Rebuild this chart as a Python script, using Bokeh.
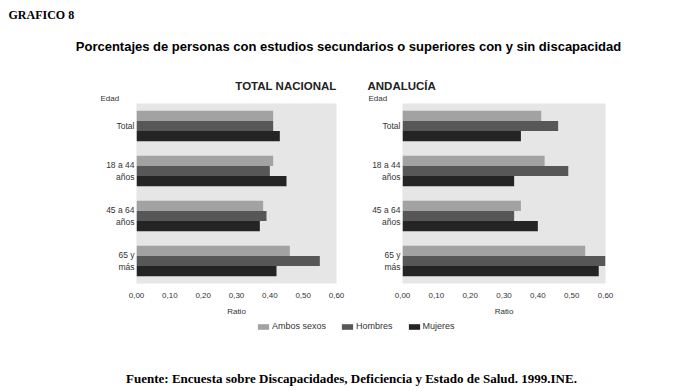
from bokeh.plotting import figure
from bokeh.models import (ColumnDataSource, Range1d, FactorRange, Label, Title,
                          Legend, LegendItem, CustomJSTickFormatter, FixedTicker)
from bokeh.layouts import column, row
from bokeh.transform import dodge
from bokeh.embed import file_html
from bokeh.resources import INLINE

# ---------------- data ----------------
groups = ["Total", "18 a 44\naños", "45 a 64\naños", "65 y\nmás"]
series = ["Ambos sexos", "Hombres", "Mujeres"]
nacional_ambos = [0.41, 0.41, 0.38, 0.46]
nacional_hombres = [0.41, 0.40, 0.39, 0.55]
nacional_mujeres = [0.43, 0.45, 0.37, 0.42]
andalucia_ambos = [0.41, 0.42, 0.35, 0.54]
andalucia_hombres = [0.46, 0.49, 0.33, 0.60]
andalucia_mujeres = [0.35, 0.33, 0.40, 0.58]
x_ticks = [0.0, 0.1, 0.2, 0.3, 0.4, 0.5, 0.6]

colors = ["#a2a2a2", "#575757", "#242424"]
SANS = "Liberation Sans"
BAR_H = 0.225
offsets = [BAR_H, 0.0, -BAR_H]


def make_panel(title, ambos, hombres, mujeres, width, bl, br, talign, toffset, eoffset):
    src = ColumnDataSource(dict(grupo=groups, ambos=ambos, hombres=hombres, mujeres=mujeres))
    p = figure(width=width, height=260, output_backend="svg", toolbar_location=None,
               y_range=FactorRange(factors=list(reversed(groups)), range_padding=0),
               x_range=Range1d(0, 0.6),
               min_border_left=bl, min_border_right=br, min_border_top=45, min_border_bottom=35)
    p.title.visible = False
    p.background_fill_color = "#e6e6e6"
    p.outline_line_color = None
    p.border_fill_color = "white"
    p.xgrid.grid_line_color = None
    p.ygrid.grid_line_color = None
    for key, off, col in zip(["ambos", "hombres", "mujeres"], offsets, colors):
        p.hbar(y=dodge("grupo", off, range=p.y_range), right=key, left=0, height=BAR_H,
               source=src, fill_color=col, line_color=None)
    xa = p.xaxis[0]
    xa.ticker = FixedTicker(ticks=x_ticks)
    xa.formatter = CustomJSTickFormatter(code="return tick.toFixed(2).replace('.', ',');")
    xa.axis_label = "Ratio"
    xa.axis_label_text_font = SANS
    xa.axis_label_text_font_style = "normal"
    xa.axis_label_text_font_size = "8px"
    xa.axis_label_text_color = "#333333"
    xa.axis_label_standoff = 6
    xa.major_label_text_font = SANS
    xa.major_label_text_font_size = "8px"
    xa.major_label_text_color = "#333333"
    xa.major_label_standoff = 9
    ya = p.yaxis[0]
    ya.major_label_text_font = SANS
    ya.major_label_text_font_size = "8.5px"
    ya.major_label_text_color = "#333333"
    ya.major_label_standoff = 2
    for ax in (xa, ya):
        ax.axis_line_color = None
        ax.major_tick_line_color = None
        ax.minor_tick_line_color = None
        ax.major_tick_out = 0
        ax.major_tick_in = 0
        ax.minor_tick_out = 0
        ax.minor_tick_in = 0
    p.add_layout(Title(text="Edad", align="left", offset=eoffset, text_font=SANS,
                       text_font_style="normal", text_font_size="8px",
                       text_color="#333333", standoff=1), "above")
    p.add_layout(Title(text=title, align=talign, offset=toffset, text_font=SANS,
                       text_font_style="bold", text_font_size="11.5px",
                       text_color="#222222", standoff=0), "above")
    return p


left = make_panel("TOTAL NACIONAL", nacional_ambos, nacional_hombres, nacional_mujeres,
                  358, 136, 22, "right", 0, -36)
right = make_panel("ANDALUCÍA", andalucia_ambos, andalucia_hombres, andalucia_mujeres,
                   320, 44, 73, "left", -35, -34)

# ---------------- header ----------------
header = figure(width=678, height=58, output_backend="svg", toolbar_location=None,
                x_range=Range1d(0, 678), y_range=Range1d(0, 58),
                x_axis_type=None, y_axis_type=None, min_border=0)
header.title.visible = False
header.outline_line_color = None
header.xgrid.visible = False
header.ygrid.visible = False
header.add_layout(Label(x=8, y=44, text="GRAFICO 8", text_font="Liberation Serif",
                        text_font_style="bold", text_font_size="12px",
                        text_baseline="middle", text_align="left", text_color="black"))
header.add_layout(Label(x=348, y=12,
                        text="Porcentajes de personas con estudios secundarios o superiores con y sin discapacidad",
                        text_font=SANS, text_font_style="bold", text_font_size="13px",
                        text_baseline="middle", text_align="center", text_color="black"))

# ---------------- footer with legend ----------------
footer = figure(width=678, height=73, output_backend="svg", toolbar_location=None,
                x_range=Range1d(0, 678), y_range=Range1d(0, 73),
                x_axis_type=None, y_axis_type=None, min_border=0)
footer.title.visible = False
footer.outline_line_color = None
footer.xgrid.visible = False
footer.ygrid.visible = False
fsrc = ColumnDataSource(dict(grupo=groups, ambos=nacional_ambos, hombres=nacional_hombres,
                             mujeres=nacional_mujeres))
items = []
for key, name, col in zip(["ambos", "hombres", "mujeres"], series, colors):
    r = footer.hbar(y=0, right=key, left=0, height=0.1, source=fsrc,
                    fill_color=col, line_color=None, visible=False)
    items.append(LegendItem(label=name, renderers=[r]))
legend = Legend(items=items, orientation="horizontal", location=(256, 60),
                padding=0, margin=0, spacing=14, glyph_width=14, glyph_height=7,
                label_standoff=2, label_height=9, label_text_font=SANS,
                label_text_font_size="9px", label_text_color="#333333",
                border_line_color=None, background_fill_alpha=0,
                inactive_fill_alpha=0)
footer.add_layout(legend, "center")
footer.add_layout(Label(x=351, y=13,
                        text="Fuente: Encuesta sobre Discapacidades, Deficiencia y Estado de Salud. 1999.INE.",
                        text_font="Liberation Serif", text_font_style="bold", text_font_size="13px",
                        text_baseline="middle", text_align="center", text_color="black"))

layout = column(header, row(left, right), footer)
open("out.html", "w").write(file_html(layout, INLINE))
